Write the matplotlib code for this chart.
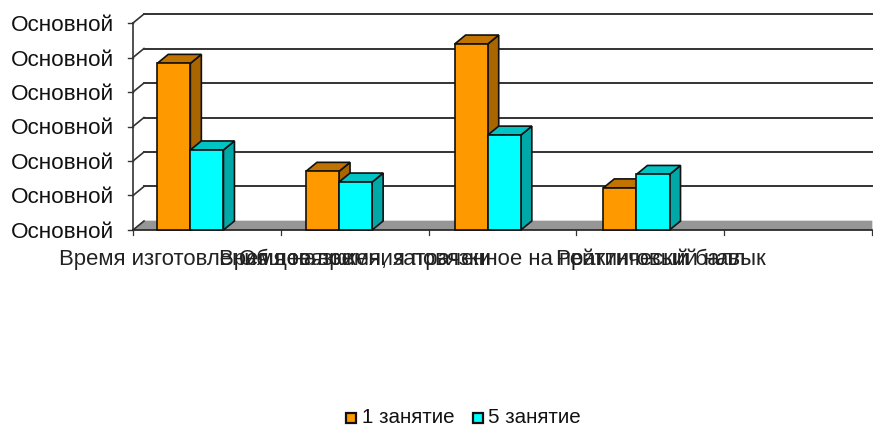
import matplotlib
matplotlib.use("Agg")
import matplotlib.pyplot as plt
from matplotlib.patches import Polygon, Rectangle

plt.rcParams["font.family"] = ["Liberation Sans", "DejaVu Sans"]

categories = [
    "Время изготовления повязки",
    "Время наложения повязки",
    "Общее время, затраченное на практический навык",
    "Рейтинговый балл",
    "",
]
series_1 = [4.83, 1.70, 5.39, 1.22]
series_5 = [2.32, 1.39, 2.75, 1.61]
series_names = ["1 занятие", "5 занятие"]
ytick_labels = ["Основной"] * 7

W, H = 873, 425
# wall size in pixels
left, right, top, bottom = 133, 872, 23, 230
ymax = len(ytick_labels) - 1

fig = plt.figure(figsize=(W / 100, H / 100), dpi=100)
ax = fig.add_axes([left / W, 1 - bottom / H, (right - left) / W, (bottom - top) / H])
ax.set_xlim(0, len(categories))
ax.set_ylim(0, ymax)
ax.axis("off")

# 3d depth, in data units
dx = 11 / ((right - left) / len(categories))
dy = 9 / ((bottom - top) / ymax)
bar_w = 0.224
bar_off = 0.164
group_step = 1.006


def poly(pts, color, z=3, lw=1.2):
    ax.add_patch(Polygon(pts, closed=True, facecolor=color, edgecolor="#111111",
                         lw=lw, zorder=z, clip_on=False, joinstyle="miter"))


def bar3d(x, h, front, roof, side, z):
    poly([(x + bar_w, 0), (x + bar_w + dx, dy), (x + bar_w + dx, h + dy), (x + bar_w, h)], side, z)
    poly([(x, h), (x + dx, h + dy), (x + bar_w + dx, h + dy), (x + bar_w, h)], roof, z)
    ax.add_patch(Rectangle((x, 0), bar_w, h, facecolor=front, edgecolor="#111111",
                           lw=1.2, zorder=z, clip_on=False))


# floor
n = len(categories)
ax.add_patch(Polygon([(0, 0), (dx, dy), (n, dy), (n, 0)], closed=True, facecolor="#969696",
                     edgecolor="#969696", lw=0.5, zorder=1, clip_on=False))

# gridlines and left wall
for i in range(ymax + 1):
    if i > 0:
        ax.plot([dx, n], [i + dy, i + dy], color="#333333", lw=1.4, zorder=1, clip_on=False)
    ax.plot([0, dx], [i, i + dy], color="#333333", lw=1.2, zorder=1, clip_on=False)
    ax.plot([-5.5 / 147.8, 0], [i, i], color="#333333", lw=1.0, zorder=2, clip_on=False)
    ax.annotate(ytick_labels[i], (0, i), xytext=(-19, -2.5), textcoords="offset pixels",
                ha="right", va="center", fontsize=16.2, color="#111111", annotation_clip=False)
ax.plot([0, 0], [0, ymax], color="#333333", lw=1.2, zorder=2, clip_on=False)
ax.plot([0, n], [0, 0], color="#222222", lw=1.2, zorder=2, clip_on=False)

# x ticks
for i in range(n + 1):
    ax.plot([i, i], [0, -5.5 / 34.5], color="#333333", lw=0.9, zorder=2, clip_on=False)
for i, c in enumerate(categories):
    ax.annotate(c, (i + 0.5, 0), xytext=(0, -29.5), textcoords="offset pixels", ha="center",
                va="center", fontsize=15.9, color="#222222", annotation_clip=False)

# bars
for i in range(len(series_1)):
    start = i * group_step + bar_off
    bar3d(start, series_1[i], "#FF9900", "#C07300", "#A86500", 3 + i)
    bar3d(start + bar_w, series_5[i], "#00FFFF", "#00C4C4", "#00A8A8", 3.5 + i)

# legend
ly = 417.5
for sx, tx, col, name in [(345.5, 361.5, "#FF9900", series_names[0]),
                          (473.5, 488, "#00FFFF", series_names[1])]:
    fig.patches.append(Rectangle((sx / W, 1 - (ly + 5) / H), 10 / W, 10 / H, facecolor=col,
                                 edgecolor="#111111", lw=1.6, transform=fig.transFigure))
    fig.text(tx / W, 1 - ly / H, name, ha="left", va="center", fontsize=14.8, color="#111111")

fig.savefig("out.png", dpi=100)
